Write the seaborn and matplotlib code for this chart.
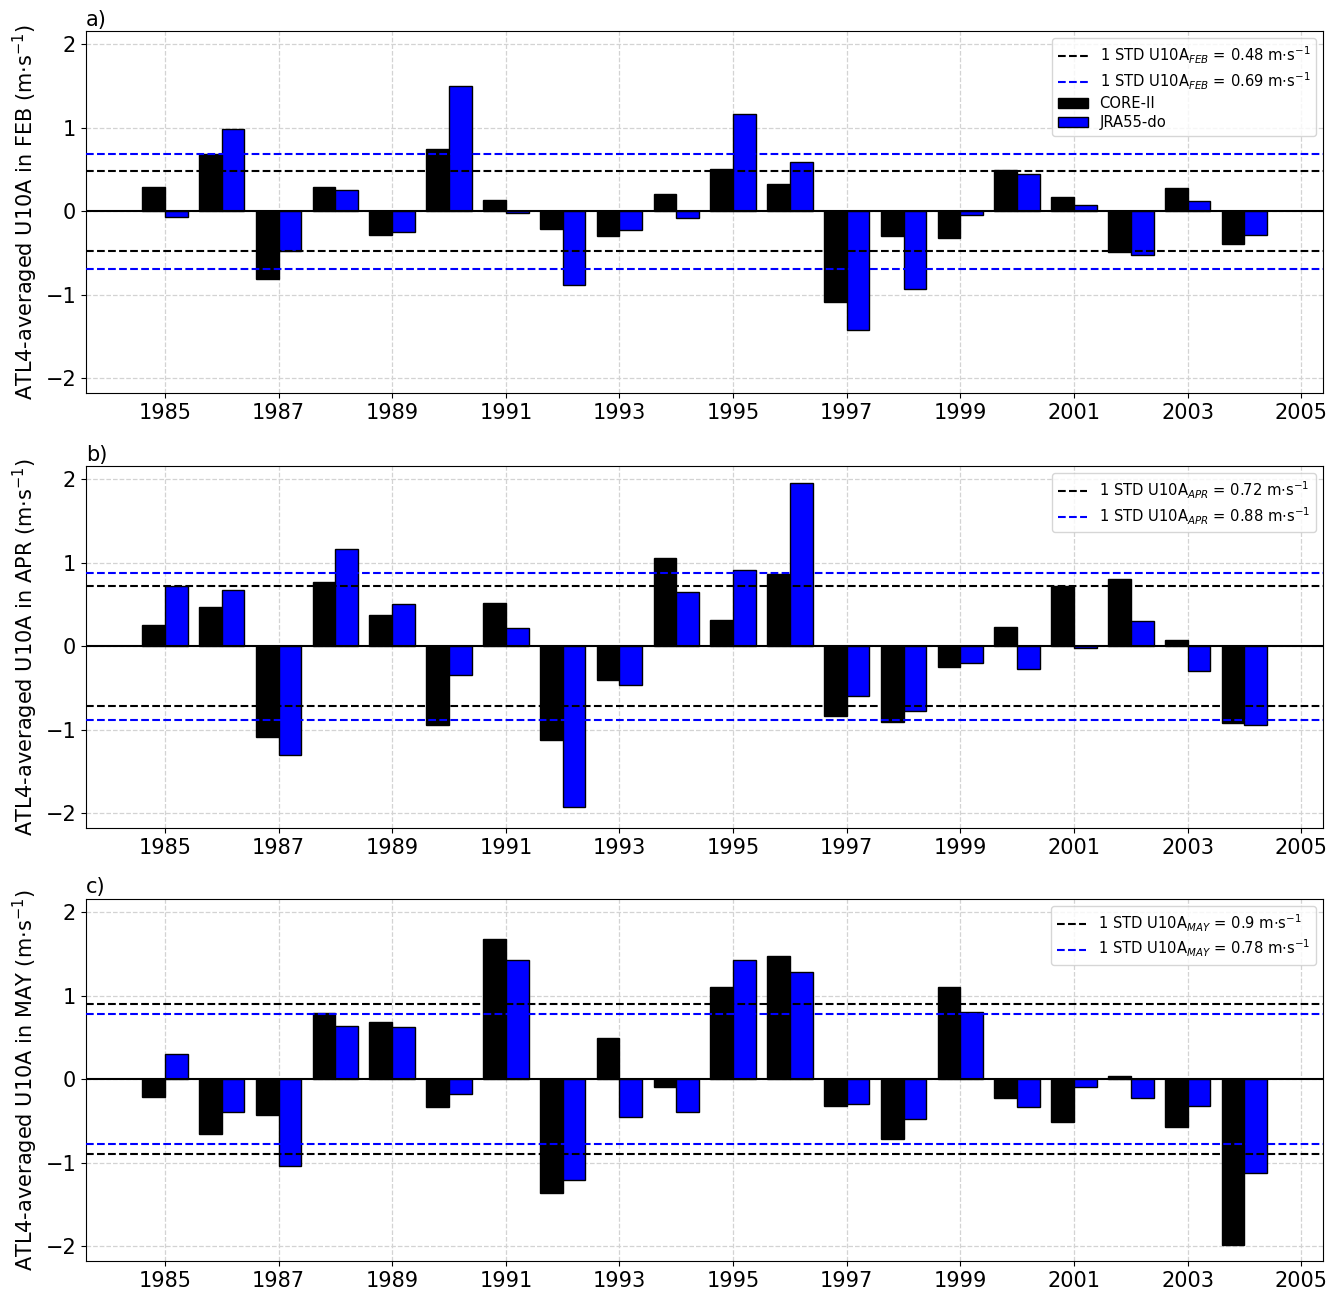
import numpy as np
import pandas as pd
import matplotlib
matplotlib.use("Agg")
import matplotlib.pyplot as plt
from matplotlib.patches import Patch
import seaborn as sns

years = list(range(1985, 2005))

# February anomalies (m/s)
core_feb = [0.29, 0.69, -0.81, 0.29, -0.29, 0.75, 0.13, -0.21, -0.30, 0.21,
            0.51, 0.33, -1.09, -0.30, -0.32, 0.50, 0.17, -0.49, 0.28, -0.39]
jra_feb = [-0.07, 0.98, -0.48, 0.26, -0.25, 1.50, -0.02, -0.89, -0.23, -0.08,
           1.17, 0.59, -1.42, -0.93, -0.05, 0.45, 0.07, -0.52, 0.12, -0.28]

# April anomalies (m/s)
core_apr = [0.26, 0.47, -1.09, 0.77, 0.38, -0.95, 0.52, -1.13, -0.41, 1.06,
            0.32, 0.87, -0.84, -0.91, -0.25, 0.23, 0.72, 0.80, 0.08, -0.92]
jra_apr = [0.72, 0.67, -1.31, 1.17, 0.51, -0.34, 0.22, -1.93, -0.46, 0.65,
           0.91, 1.96, -0.60, -0.78, -0.20, -0.27, -0.02, 0.30, -0.30, -0.95]

# May anomalies (m/s)
core_may = [-0.21, -0.66, -0.43, 0.79, 0.68, -0.34, 1.68, -1.36, 0.49, -0.10,
            1.10, 1.48, -0.32, -0.72, 1.11, -0.23, -0.51, 0.04, -0.57, -1.99]
jra_may = [0.30, -0.40, -1.04, 0.64, 0.63, -0.18, 1.43, -1.21, -0.46, -0.40,
           1.43, 1.28, -0.30, -0.48, 0.80, -0.34, -0.10, -0.23, -0.32, -1.13]

months = ["FEB", "APR", "MAY"]
panel_labels = ["a)", "b)", "c)"]
std_core = [0.48, 0.72, 0.9]
std_jra = [0.69, 0.88, 0.78]
datasets = ["CORE-II", "JRA55-do"]
colors = {"CORE-II": "black", "JRA55-do": "blue"}

series = [(core_feb, jra_feb), (core_apr, jra_apr), (core_may, jra_may)]

fig = plt.figure(figsize=(13.43, 12.95), dpi=100)
left, width = 0.064, 0.9214
bottoms = [0.6965, 0.3606, 0.0263]
height = 0.2795

for i, (core, jra) in enumerate(series):
    ax = fig.add_axes([left, bottoms[i], width, height])
    df = pd.DataFrame({
        "year": years * 2,
        "u10a": list(core) + list(jra),
        "dataset": [datasets[0]] * len(years) + [datasets[1]] * len(years),
    })
    ax.grid(True, linestyle="--", color="lightgray", linewidth=0.9, zorder=0)
    ax.set_axisbelow(True)
    sns.barplot(data=df, x="year", y="u10a", hue="dataset", hue_order=datasets,
                palette=colors, native_scale=True, saturation=1,
                edgecolor="black", linewidth=1.0, legend=False, ax=ax,
                errorbar=None, zorder=2)

    ax.axhline(0, color="black", linewidth=1.5, zorder=3)
    m = months[i]
    l1 = ax.axhline(std_core[i], color="black", linestyle="--", linewidth=1.5, zorder=4,
                    label=r"1 STD U10A$_{%s}$ = %s m$\cdot$s$^{-1}$" % (m, std_core[i]))
    ax.axhline(-std_core[i], color="black", linestyle="--", linewidth=1.5, zorder=4)
    l2 = ax.axhline(std_jra[i], color="blue", linestyle="--", linewidth=1.5, zorder=4,
                    label=r"1 STD U10A$_{%s}$ = %s m$\cdot$s$^{-1}$" % (m, std_jra[i]))
    ax.axhline(-std_jra[i], color="blue", linestyle="--", linewidth=1.5, zorder=4)

    handles = [l1, l2]
    if i == 0:
        handles += [Patch(facecolor=colors[d], edgecolor="black", label=d) for d in datasets]
    ax.legend(handles=handles, loc="upper right", fontsize=10.6, labelspacing=0.3)

    ax.set_xlim(1983.61, 2005.39)
    ax.set_ylim(-2.18, 2.16)
    ax.set_xticks(range(1985, 2006, 2))
    ax.set_xticklabels([str(y) for y in range(1985, 2006, 2)])
    ax.set_yticks([-2, -1, 0, 1, 2])
    ax.tick_params(labelsize=15)
    ax.set_xlabel("")
    ax.set_ylabel("ATL4-averaged U10A in %s (m$\\cdot$s$^{-1}$)" % m, fontsize=15)
    ax.set_title(panel_labels[i], loc="left", fontsize=15, pad=4)

fig.savefig("out.png", dpi=100)
